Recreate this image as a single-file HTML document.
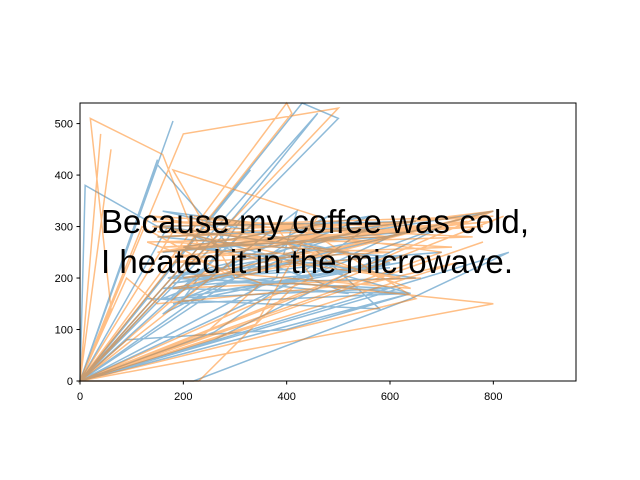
<!DOCTYPE html>
<html><head><meta charset="utf-8"><style>
body{margin:0;background:#fff;}
svg{display:block;font-family:"Liberation Sans",sans-serif;}
</style></head><body>
<svg id="chart" width="640" height="480">
<rect x="0" y="0" width="640" height="480" fill="#fff"/>
<g id="plot"></g>
<rect x="80" y="103" width="496" height="278" fill="none" stroke="#000" stroke-width="1"/>
<g id="ticks"></g>
<text x="101" y="233" font-size="33" textLength="428" fill="#000">Because my coffee was cold,</text>
<text x="101" y="273" font-size="33" textLength="412" fill="#000">I heated it in the microwave.</text>
</svg>
<script>
const xTicks=[0,200,400,600,800];
const yTicks=[0,100,200,300,400,500];
const blueX=[0,330,0,150,0,620,0,830,640,220,0,180,0,300,460,0,430,500,0,260,560,200,800,300,150,0,640,400,90,0,240,600,160,310,200,450,580,130,0,260,700,400,620,180,350,0,480,240,520,170,0,380,420,160,280,650,230,600,0,10,
 150,650,160,640,170,600,160,630,180,620,150,580,170,600,160,560,200,500,180,520,160,640,190,700];
const blueY=[0,410,0,430,0,180,0,250,160,0,0,505,0,320,520,0,540,510,0,95,300,180,330,250,420,0,170,100,80,0,170,230,330,310,160,260,140,160,0,80,300,190,230,160,320,0,320,200,170,300,0,200,330,130,190,200,260,280,0,380,
 300,310,250,290,200,220,180,170,150,240,280,300,200,180,160,320,260,230,190,250,300,170,210,250];
const orangeX=[0,40,0,60,0,780,0,800,420,230,0,400,410,0,200,500,0,820,0,650,430,150,800,200,620,180,0,240,350,130,600,220,700,0,340,460,180,300,800,450,0,60,20,160,230,0,380,450,0,250,0,730,560,150,90,0,120,280,640,390,
 140,800,150,780,160,760,140,700,170,720,150,650,180,600,160,620,140,560,200,750,150,800,180,660];
const orangeY=[0,480,0,450,0,270,0,150,190,0,0,540,520,0,480,530,0,320,0,160,300,250,310,260,200,290,0,90,190,270,280,320,250,0,110,320,410,200,330,180,0,140,510,440,260,0,300,200,0,220,0,230,190,150,200,0,300,210,180,270,
 300,320,280,300,260,280,310,300,240,260,290,310,230,250,270,290,320,240,200,310,250,330,180,200];
const X=v=>80+v*496/960, Y=v=>381-v*278/540;
const P=document.getElementById('plot'), T=document.getElementById('ticks'), NS="http://www.w3.org/2000/svg";
function series(xs,ys,col,name){
  const pl=document.createElementNS(NS,'polyline');
  pl.setAttribute('points',xs.map((x,i)=>X(x)+','+Y(ys[i])).join(' '));
  pl.setAttribute('fill','none');pl.setAttribute('stroke',col);pl.setAttribute('stroke-opacity','0.5');pl.setAttribute('stroke-width','1.5');
  
  
  P.appendChild(pl);
}
series(blueX,blueY,'#1f77b4','blue-series');
series(orangeX,orangeY,'#ff7f0e','orange-series');
xTicks.forEach(t=>{
  const l=document.createElementNS(NS,'line');l.setAttribute('x1',X(t));l.setAttribute('x2',X(t));l.setAttribute('y1',381);l.setAttribute('y2',384.5);l.setAttribute('stroke','#000');
  
  
  T.appendChild(l);
  const s=document.createElementNS(NS,'text');s.setAttribute('x',X(t));s.setAttribute('y',400);s.setAttribute('font-size','11');s.setAttribute('text-anchor','middle');s.textContent=t;
  
  
  T.appendChild(s);
});
yTicks.forEach(t=>{
  const l=document.createElementNS(NS,'line');l.setAttribute('x1',76.5);l.setAttribute('x2',80);l.setAttribute('y1',Y(t));l.setAttribute('y2',Y(t));l.setAttribute('stroke','#000');
  
  
  T.appendChild(l);
  const s=document.createElementNS(NS,'text');s.setAttribute('x',73);s.setAttribute('y',Y(t)+4);s.setAttribute('font-size','11');s.setAttribute('text-anchor','end');s.textContent=t;
  
  
  T.appendChild(s);
});
</script>
</body></html>
